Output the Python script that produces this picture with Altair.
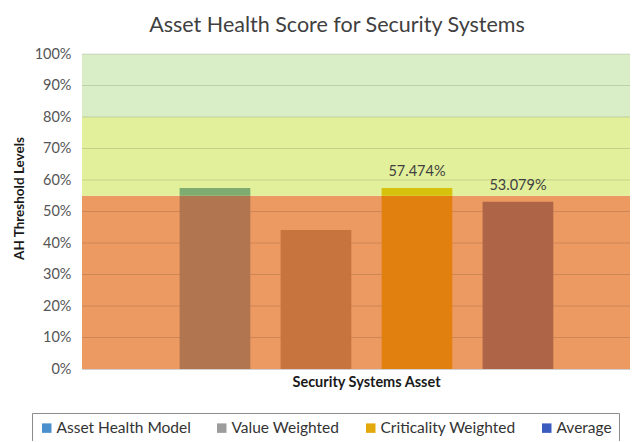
import altair as alt
import pandas as pd

# --- data ---
series = ["Asset Health Model", "Value Weighted", "Criticality Weighted", "Average"]
values = [0.575, 0.441, 0.57474, 0.53079]
bar_labels = ["", "", "57.474%", "53.079%"]
legend_colors = ["#4A90CC", "#9C9C9C", "#E3A90C", "#3A5CBF"]
low_colors = ["#B1764F", "#C8743E", "#E2800F", "#AE6446"]   # bar colour over red zone
high_colors = ["#7EAB6F", "#C8743E", "#D6C20C", "#AE6446"]  # bar colour over amber zone
threshold = 0.55
band_lo = [0.0, 0.55, 0.80]
band_hi = [0.55, 0.80, 1.00]
band_colors = ["#EC9A62", "#E2F09B", "#D9EDC7"]
y_ticks = [0.0, 0.1, 0.2, 0.3, 0.4, 0.5, 0.6, 0.7, 0.8, 0.9, 1.0]

FONT = "Lato"

bands = pd.DataFrame({"lo": band_lo, "hi": band_hi, "c": band_colors})
grid = pd.DataFrame({"t": y_ticks[1:]})

segs = []
for s, v, lc, hc in zip(series, values, low_colors, high_colors):
    segs.append({"series": s, "y0": 0.0, "y1": min(v, threshold), "c": lc})
    if v > threshold:
        segs.append({"series": s, "y0": threshold, "y1": v, "c": hc})
segs = pd.DataFrame(segs)
bars = pd.DataFrame({"series": series, "value": values, "label": bar_labels})

xscale = alt.Scale(domain=series, paddingInner=0.3, paddingOuter=0.863, align=0.56)
yscale = alt.Scale(domain=[0, 1])

x_axis = alt.Axis(labels=False, ticks=False, domain=False, grid=False,
                  title="Security Systems Asset", titleFont=FONT,
                  titleFontSize=14.5, titleFontWeight="bold", titleColor="#1a1a1a",
                  titlePadding=6, titleX=284)
y_axis = alt.Axis(format=".0%", values=y_ticks, grid=False, domain=False, ticks=False,
                  labelOverlap=False, labelFlush=False,
                  labelFont=FONT, labelFontSize=14.5, labelColor="#555555",
                  labelPadding=11, title="AH Threshold Levels", titleFont=FONT,
                  titleFontSize=13.5, titleFontWeight="bold", titleColor="#1a1a1a",
                  titlePadding=8, titleY=144)

band_layer = alt.Chart(bands).mark_rect().encode(
    y=alt.Y("lo:Q", scale=yscale, axis=y_axis),
    y2="hi:Q",
    fill=alt.Fill("c:N", scale=None),
)

grid_layer = alt.Chart(grid).mark_rule(color="#000000", opacity=0.13, strokeWidth=1).encode(
    y=alt.Y("t:Q", scale=yscale, axis=y_axis)
)

bar_layer = alt.Chart(segs).mark_bar().encode(
    x=alt.X("series:N", scale=xscale, axis=x_axis),
    y=alt.Y("y0:Q", scale=yscale, axis=y_axis),
    y2="y1:Q",
    fill=alt.Fill("c:N", scale=None),
)

legend_layer = alt.Chart(bars).mark_square(opacity=0, size=10).encode(
    x=alt.X("series:N", scale=xscale, axis=x_axis),
    y=alt.Y("value:Q", scale=yscale, axis=y_axis),
    color=alt.Color("series:N", scale=alt.Scale(domain=series, range=legend_colors),
                    legend=alt.Legend(title=None, orient="none", legendX=-50, legendY=359,
                                      direction="horizontal", symbolType="square",
                                      symbolSize=90, symbolOpacity=1, symbolStrokeWidth=0,
                                      labelFont=FONT, labelFontSize=15.5, labelColor="#333333",
                                      columnPadding=23, strokeColor="#8c8c8c", padding=7,
                                      labelOffset=2)),
)

text_layer = alt.Chart(bars).mark_text(font=FONT, fontSize=14.5, color="#404040",
                                       baseline="alphabetic", dy=-12).encode(
    x=alt.X("series:N", scale=xscale, axis=x_axis),
    y=alt.Y("value:Q", scale=yscale, axis=y_axis),
    text="label:N",
)

chart = alt.layer(band_layer, grid_layer, bar_layer, legend_layer, text_layer).properties(
    width=548, height=315,
    autosize=alt.AutoSizeParams(type="none"),
    padding={"left": 74, "top": 46, "right": 0, "bottom": 72},
    title=alt.TitleParams("Asset Health Score for Security Systems", font=FONT, fontSize=21.5,
                          fontWeight="normal", color="#404040", anchor="middle", dx=-19,
                          offset=10),
).configure_view(stroke="#d0d0d0")

chart.save("out.html", embed_options={"renderer": "svg", "actions": False})
